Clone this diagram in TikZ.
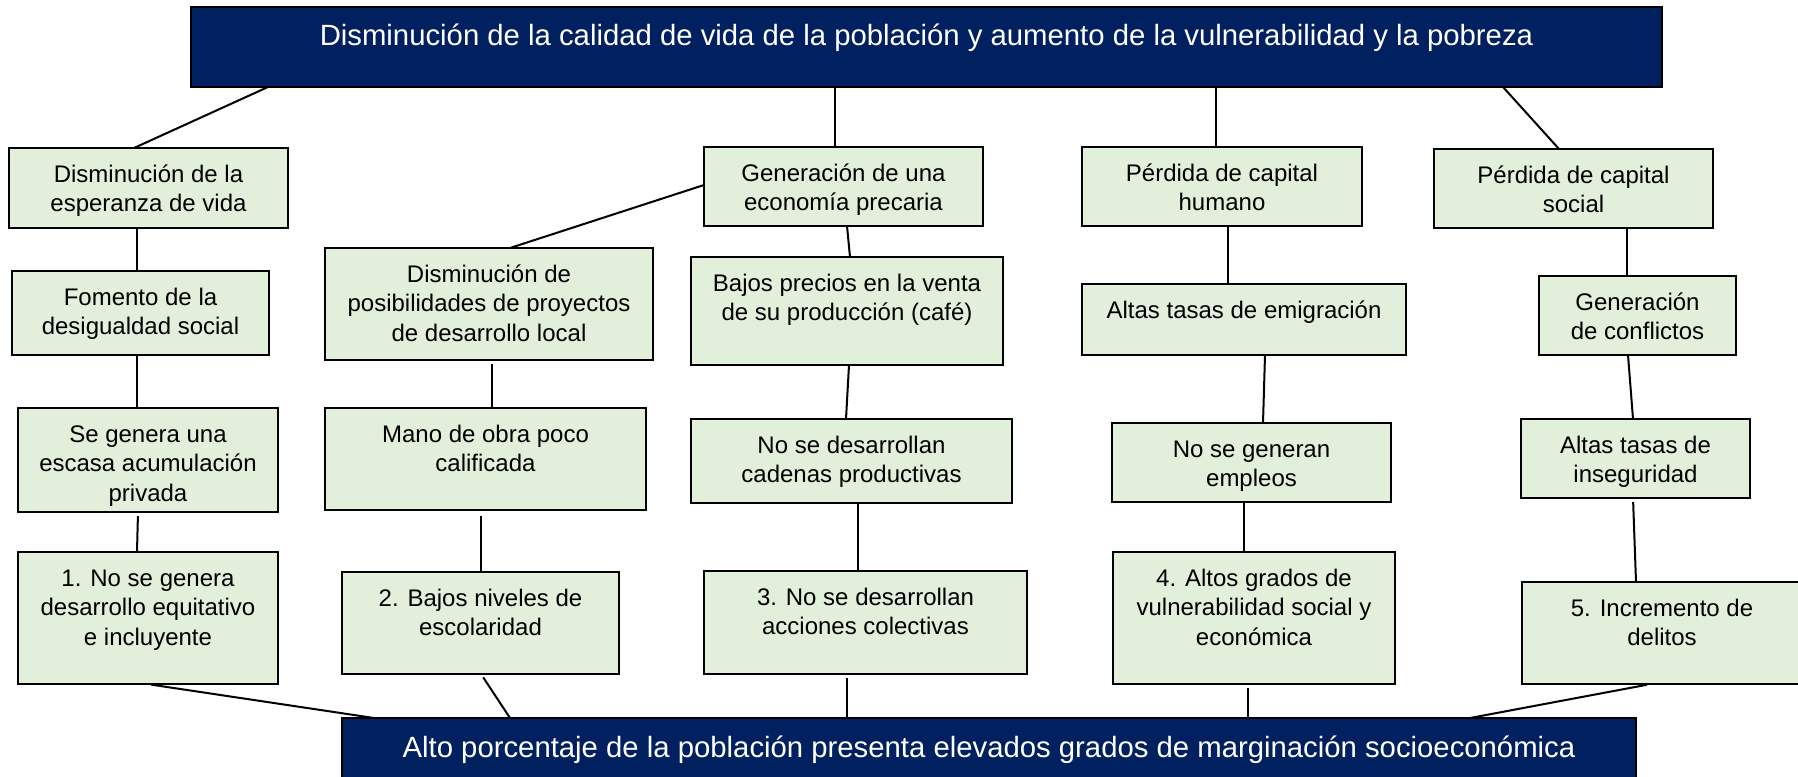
\documentclass[tikz,border=0pt]{standalone}
\usepackage{fontspec}
\setmainfont{Liberation Sans}
\definecolor{navy}{RGB}{0,32,96}
\definecolor{gfill}{RGB}{226,239,218}
\newcommand\gtx[3]{\parbox[t][#2][t]{#1}{\centering\rule{0pt}{17pt}#3}}
\newcommand\ntx[4]{\parbox[t][#2][t]{#1}{\centering\rule{0pt}{#3}#4}}
\begin{document}
\begin{tikzpicture}[x=0.5pt,y=-0.5pt,
  gbox/.style={draw=black, fill=gfill, line width=0.75pt, inner sep=0pt, outer sep=0pt,
    anchor=north west, font=\fontsize{12}{14.75}\selectfont},
  nbox/.style={draw=black, fill=navy, text=white, line width=0.6pt, inner sep=0pt, outer sep=0pt,
    anchor=north west, font=\fontsize{14.65}{17}\selectfont},
  conn/.style={line width=1pt, draw=black},
  gap/.style={shorten <=2pt}]
\path[use as bounding box, fill=white] (0,0) rectangle (1798,776);

% top and bottom boxes
\node[nbox] (top) at (191,7) {\ntx{735.5pt}{40pt}{19pt}{Disminución de la calidad de vida de la población y aumento de la vulnerabilidad y la pobreza}};
\node[nbox] (bot) at (342,718) {\ntx{647pt}{31pt}{19.5pt}{Alto porcentaje de la población presenta elevados grados de marginación socioeconómica}};

% column A
\node[gbox] (a1) at (9,148)  {\gtx{139.5pt}{40pt}{Disminución de la\\esperanza de vida}};
\node[gbox] (a2) at (12,271) {\gtx{128.5pt}{42pt}{Fomento de la\\desigualdad social}};
\node[gbox] (a3) at (18,408) {\gtx{130pt}{52pt}{Se genera una\\escasa acumulación\\privada}};
\node[gbox] (a4) at (18,552) {\gtx{130pt}{66pt}{1. No se genera\\desarrollo equitativo\\e incluyente}};

% column B
\node[gbox] (b1) at (325,248) {\gtx{164pt}{56pt}{Disminución de\\posibilidades de proyectos\\de desarrollo local}};
\node[gbox] (b2) at (325,408) {\gtx{160.5pt}{51pt}{Mano de obra poco\\calificada}};
\node[gbox] (b3) at (342,572) {\gtx{138.5pt}{51pt}{2. Bajos niveles de\\escolaridad}};

% column C
\node[gbox] (c0) at (704,147) {\gtx{139.5pt}{39.5pt}{Generación de una\\economía precaria}};
\node[gbox] (c1) at (691,257) {\gtx{156pt}{54pt}{Bajos precios en la venta\\de su producción (café)}};
\node[gbox] (c2) at (691,419) {\gtx{160.5pt}{42pt}{No se desarrollan\\cadenas productivas}};
\node[gbox] (c3) at (704,571) {\gtx{161.5pt}{51.5pt}{3. No se desarrollan\\acciones colectivas}};

% column D
\node[gbox] (d0) at (1082,147) {\gtx{140pt}{39.5pt}{Pérdida de capital\\humano}};
\node[gbox] (d1) at (1082,284) {\gtx{162pt}{35.5pt}{Altas tasas de emigración}};
\node[gbox] (d2) at (1112,423) {\gtx{139.5pt}{39.5pt}{No se generan\\empleos}};
\node[gbox] (d3) at (1113,552) {\gtx{141pt}{66pt}{4. Altos grados de\\vulnerabilidad social y\\económica}};

% column E
\node[gbox] (e0) at (1434,149) {\gtx{139.5pt}{39.5pt}{Pérdida de capital\\social}};
\node[gbox] (e1) at (1539,276) {\gtx{98.5pt}{39.5pt}{Generación\\de conflictos}};
\node[gbox] (e2) at (1521,419) {\gtx{114.5pt}{39.5pt}{Altas tasas de\\inseguridad}};
\node[gbox] (e3) at (1522,582) {\gtx{140pt}{51pt}{5. Incremento de\\delitos}};

% connectors
\draw[conn] (top.south -| 268,0) -- (a1.north -| 134,0);
\draw[conn] (top.south -| 835,0) -- (c0.north -| 835,0);
\draw[conn] (top.south -| 1216,0) -- (d0.north -| 1216,0);
\draw[conn] (top.south -| 1503,0) -- (e0.north -| 1559,0);

\draw[conn] (a1.south -| 137,0) -- (a2.north -| 137,0);
\draw[conn] (a2.south -| 137,0) -- (a3.north -| 137,0);
\draw[conn, gap] (a3.south -| 138,0) -- (a4.north -| 137,0);
\draw[conn, gap] (a4.south -| 147,0) -- (bot.north -| 374,0);

\draw[conn] (c0.west |- 0,185) -- (b1.north -| 510,0);
\draw[conn, gap] (b1.south -| 492,0) -- (b2.north -| 492,0);
\draw[conn, shorten <=3pt] (b2.south -| 481,0) -- (b3.north -| 481,0);
\draw[conn, gap] (b3.south -| 481,0) -- (bot.north -| 510,0);

\draw[conn] (c0.south -| 847,0) -- (c1.north -| 850,0);
\draw[conn] (c1.south -| 849,0) -- (c2.north -| 846,0);
\draw[conn] (c2.south -| 858,0) -- (c3.north -| 858,0);
\draw[conn, gap] (c3.south -| 847,0) -- (bot.north -| 847,0);

\draw[conn] (d0.south -| 1228,0) -- (d1.north -| 1228,0);
\draw[conn] (d1.south -| 1265,0) -- (d2.north -| 1263,0);
\draw[conn] (d2.south -| 1244,0) -- (d3.north -| 1244,0);
\draw[conn, gap] (d3.south -| 1248,0) -- (bot.north -| 1248,0);

\draw[conn] (e0.south -| 1627,0) -- (e1.north -| 1627,0);
\draw[conn] (e1.south -| 1628,0) -- (e2.north -| 1633,0);
\draw[conn, gap] (e2.south -| 1633,0) -- (e3.north -| 1636,0);
\draw[conn, gap] (e3.south -| 1651,0) -- (bot.north -| 1470,0);
\end{tikzpicture}
\end{document}
